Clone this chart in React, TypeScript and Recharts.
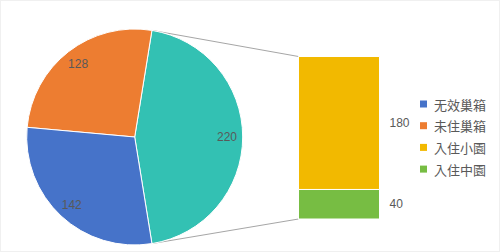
import React from 'react';
import { PieChart, Pie, Cell, BarChart, Bar, XAxis, YAxis, LabelList } from 'recharts';

const pieNames = ['入住巢箱', '未住巢箱', '无效巢箱'];
const pieValues = [220, 128, 142];
const pieColors = ['#33C1B3', '#ED7D31', '#4673C9'];

const barCategory = ['入住'];
const barSmall = [180];
const barMedium = [40];

const legendNames = ['无效巢箱', '未住巢箱', '入住小園', '入住中園'];
const legendColors = ['#4673C9', '#ED7D31', '#F2B900', '#77BD43'];

const W = 500;
const H = 252;
const CX = 134.7;
const CY = 137;
const R = 108;
const BAR_MARGIN = { top: 56.5, bottom: 33, left: 298.5, right: 120.5 };

const pieData = pieNames.map((name, i) => ({ name, value: pieValues[i] }));
const barData = barCategory.map((name, i) => ({ name, small: barSmall[i], medium: barMedium[i] }));

const pieTotal = pieValues.reduce((a, b) => a + b, 0);
const halfSpan = (pieValues[0] / pieTotal) * 360 / 2;
const START = -halfSpan;
const END = START + 360;

const RAD = Math.PI / 180;
const font = '"Liberation Sans", Arial, sans-serif';

const renderPieLabel = (props: any) => {
  const { cx, cy, midAngle, outerRadius, value } = props;
  const r = outerRadius * 0.855;
  const x = cx + r * Math.cos(-midAngle * RAD);
  const y = cy + r * Math.sin(-midAngle * RAD);
  return (
    <text x={x} y={y} fill="#595959" fontSize={12} fontFamily={font} textAnchor="middle" dominantBaseline="central">
      {value}
    </text>
  );
};

export default function App() {
  const topPie = { x: CX + R * Math.cos(halfSpan * RAD), y: CY - R * Math.sin(halfSpan * RAD) };
  const botPie = { x: CX + R * Math.cos(-halfSpan * RAD), y: CY - R * Math.sin(-halfSpan * RAD) };
  const barLeft = BAR_MARGIN.left;
  const barTop = BAR_MARGIN.top;
  const barBottom = H - BAR_MARGIN.bottom;
  const legendStart = 104;
  const legendStep = 21.7;

  return (
    <div style={{ position: 'absolute', left: 0, top: 0, width: W, height: H, background: '#fff' }}>
      <div style={{ position: 'absolute', left: 0, top: 0 }}>
        <svg width={W} height={H}>
          <rect x={0.5} y={0.5} width={W - 1} height={H - 1} fill="none" stroke="#F0F0F0" strokeWidth={1} />
          <line x1={topPie.x} y1={topPie.y} x2={barLeft} y2={barTop} stroke="#A6A6A6" strokeWidth={1} />
          <line x1={botPie.x} y1={botPie.y} x2={barLeft} y2={barBottom} stroke="#A6A6A6" strokeWidth={1} />
        </svg>
      </div>
      <div style={{ position: 'absolute', left: 0, top: 0 }}>
        <PieChart width={W} height={H} margin={{ top: 0, right: 0, bottom: 0, left: 0 }}>
          <Pie
            data={pieData}
            dataKey="value"
            nameKey="name"
            cx={CX}
            cy={CY}
            outerRadius={R}
            startAngle={START}
            endAngle={END}
            stroke="#ffffff"
            strokeWidth={1}
            label={renderPieLabel}
            labelLine={false}
            isAnimationActive={false}
          >
            {pieData.map((d, i) => (
              <Cell key={d.name} fill={pieColors[i]} />
            ))}
          </Pie>
        </PieChart>
      </div>
      <div style={{ position: 'absolute', left: 0, top: 0 }}>
        <BarChart width={W} height={H} data={barData} margin={BAR_MARGIN} barCategoryGap={0}>
          <XAxis dataKey="name" hide />
          <YAxis hide domain={[0, 220]} />
          <Bar dataKey="medium" stackId="a" fill="#77BD43" stroke="#ffffff" strokeWidth={1} isAnimationActive={false}>
            <LabelList dataKey="medium" position="right" offset={10} fill="#595959" fontSize={12} fontFamily={font} />
          </Bar>
          <Bar dataKey="small" stackId="a" fill="#F2B900" stroke="#ffffff" strokeWidth={1} isAnimationActive={false}>
            <LabelList dataKey="small" position="right" offset={10} fill="#595959" fontSize={12} fontFamily={font} />
          </Bar>
        </BarChart>
      </div>
      <div style={{ position: 'absolute', left: 0, top: 0, pointerEvents: 'none' }}>
        <svg width={W} height={H}>
          {legendNames.map((name, i) => {
            const cy = legendStart + i * legendStep;
            return (
              <g key={name}>
                <rect x={420} y={cy - 3.5} width={7} height={7} fill={legendColors[i]} />
                <text x={434} y={cy} fill="#595959" fontSize={13} fontFamily='"Noto Sans CJK TC", sans-serif' dominantBaseline="central">
                  {name}
                </text>
              </g>
            );
          })}
        </svg>
      </div>
    </div>
  );
}
